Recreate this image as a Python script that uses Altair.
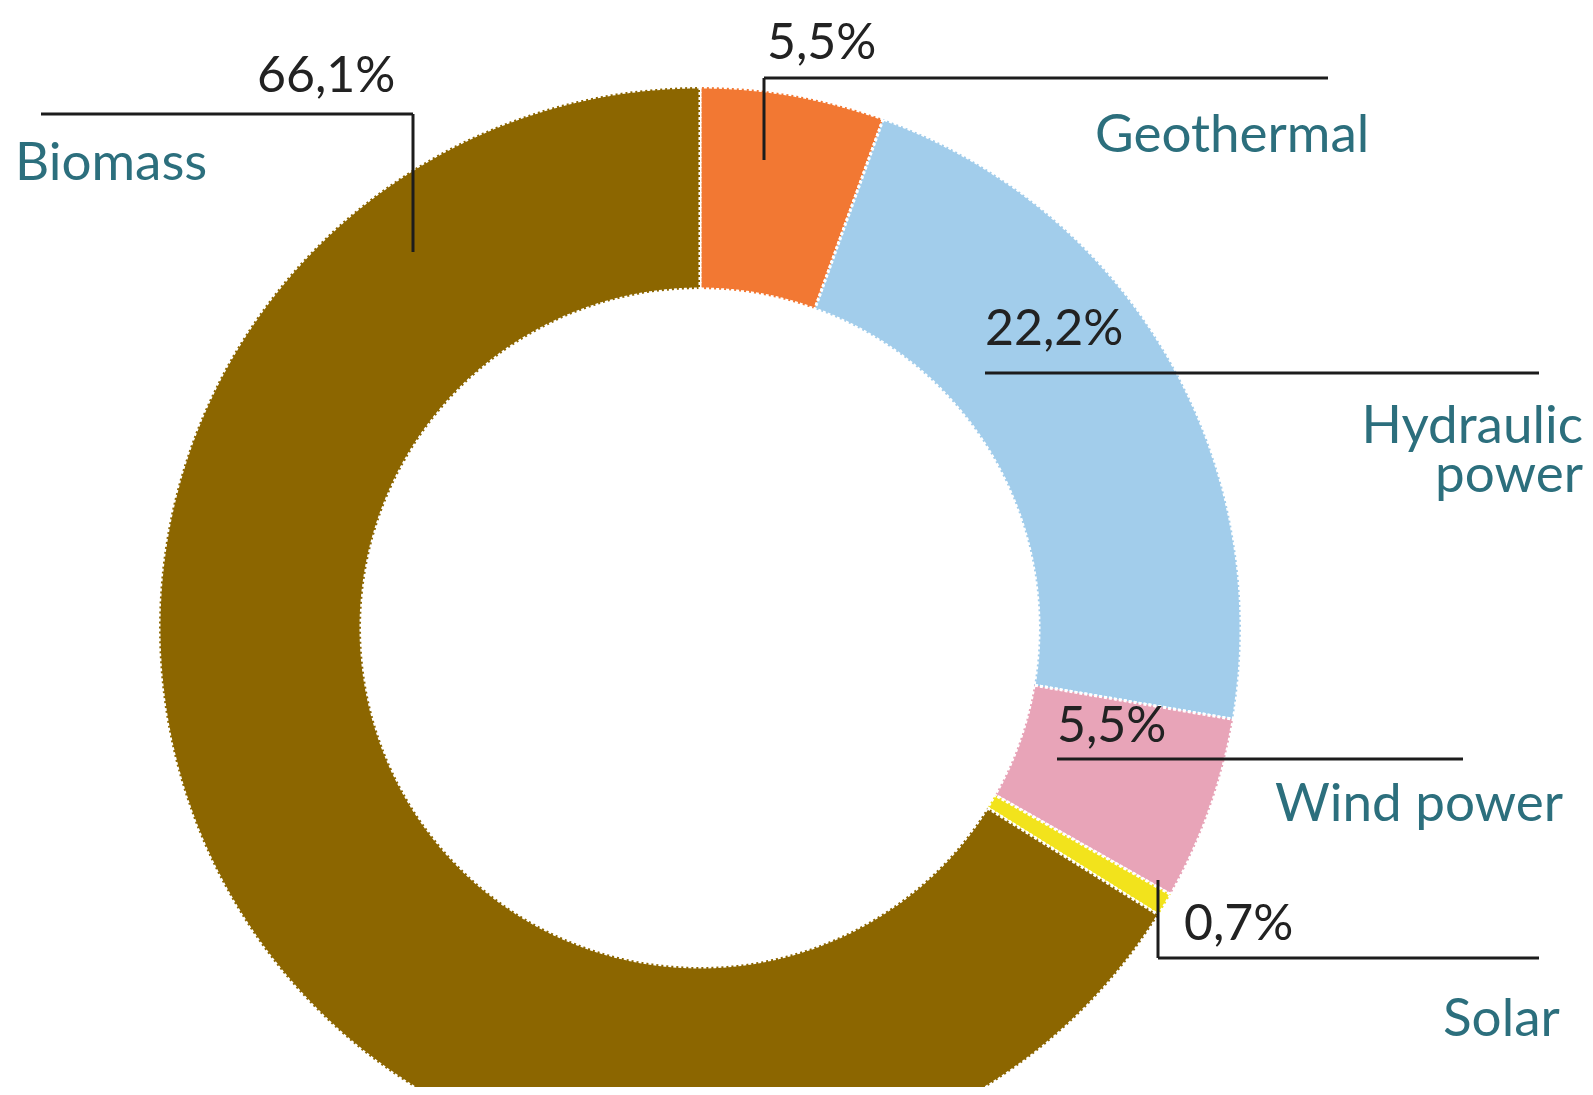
import altair as alt
import pandas as pd

# ---- data ----
categories = ["Geothermal", "Hydraulic power", "Wind power", "Solar", "Biomass"]
shares = [5.5, 22.2, 5.5, 0.7, 66.1]
pct_labels = ["5,5%", "22,2%", "5,5%", "0,7%", "66,1%"]
colors = ["#f27833", "#a2cdeb", "#e8a4b8", "#f2e31c", "#8c6600"]

# ---- layout (plot-area pixels) ----
W, H = 1577, 1079
CX, CY = 692, 620
R_OUT, R_IN = 541, 339

pct_x = [759, 977, 1049, 1176, 249]
pct_y = [51, 337, 734, 932, 84]

name_left_text = ["Biomass", "Geothermal", "Wind power", "Solar"]
name_left_x = [7, 1087, 1267, 1435]
name_left_y = [172, 144, 813, 1028]

name_right_text = ["Hydraulic\npower"]
name_right_x = [1575]
name_right_y = [435]

seg_x = [33, 405, 756, 756, 977, 1049, 1150, 1150]
seg_y = [106, 106, 70, 70, 365, 751, 872, 950]
seg_x2 = [405, 405, 1320, 756, 1531, 1455, 1150, 1531]
seg_y2 = [106, 244, 70, 152, 365, 751, 950, 950]

donut = pd.DataFrame({
    "category": categories,
    "share": shares,
    "order": list(range(len(categories))),
})
pct_df = pd.DataFrame({"label": pct_labels, "x": pct_x, "y": pct_y})
left_df = pd.DataFrame({"label": name_left_text, "x": name_left_x, "y": name_left_y})
right_df = pd.DataFrame({"label": name_right_text, "x": name_right_x, "y": name_right_y})
seg_df = pd.DataFrame({"x": seg_x, "y": seg_y, "x2": seg_x2, "y2": seg_y2})

xs = alt.Scale(domain=[0, W], nice=False, zero=False)
ys = alt.Scale(domain=[0, H], nice=False, zero=False, reverse=True)

arcs = alt.Chart(donut).mark_arc(
    outerRadius=R_OUT, innerRadius=R_IN,
    stroke="white", strokeWidth=3, strokeDash=[3, 2],
).encode(
    theta=alt.Theta("share:Q", stack=True),
    color=alt.Color("category:N", scale=alt.Scale(domain=categories, range=colors), legend=None),
    order=alt.Order("order:Q", sort="ascending"),
    x=alt.value(CX),
    y=alt.value(CY),
)

segs = alt.Chart(seg_df).mark_rule(color="#1c1c1c", strokeWidth=3).encode(
    x=alt.X("x:Q", scale=xs, axis=None),
    y=alt.Y("y:Q", scale=ys, axis=None),
    x2="x2:Q",
    y2="y2:Q",
)

pct_text = alt.Chart(pct_df).mark_text(
    align="left", baseline="alphabetic", font="Lato", fontSize=50, color="#222222"
).encode(
    x=alt.X("x:Q", scale=xs, axis=None),
    y=alt.Y("y:Q", scale=ys, axis=None),
    text="label:N",
)

left_text = alt.Chart(left_df).mark_text(
    align="left", baseline="alphabetic", font="Lato", fontSize=53, color="#2c6f7d"
).encode(
    x=alt.X("x:Q", scale=xs, axis=None),
    y=alt.Y("y:Q", scale=ys, axis=None),
    text="label:N",
)

right_text = alt.Chart(right_df).mark_text(
    align="right", baseline="alphabetic", font="Lato", fontSize=53, color="#2c6f7d",
    lineBreak="\n", lineHeight=49,
).encode(
    x=alt.X("x:Q", scale=xs, axis=None),
    y=alt.Y("y:Q", scale=ys, axis=None),
    text="label:N",
)

chart = alt.layer(arcs, segs, pct_text, left_text, right_text).properties(
    width=W, height=H,
    autosize=alt.AutoSizeParams(type="none"),
    padding=0,
).configure_view(stroke=None)

chart.save("out.html", embed_options={"renderer": "svg", "actions": False})
